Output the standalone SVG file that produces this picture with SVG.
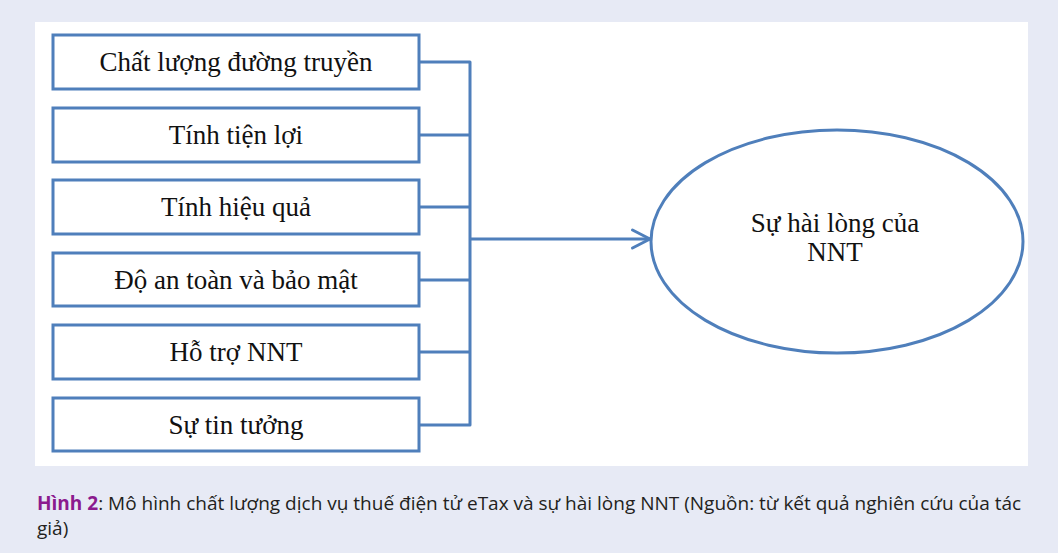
<svg xmlns="http://www.w3.org/2000/svg" width="1058" height="553" viewBox="0 0 1058 553">
  <style>
    .box { fill: #ffffff; stroke: #4f7fbb; stroke-width: 3; }
    .lbl { font-family: "Liberation Serif", "Times New Roman", serif; font-size: 27px; fill: #111111; text-anchor: middle; }
    .conn { fill: none; stroke: #4f7fbb; stroke-width: 3; stroke-linejoin: round; }
    .cap { font-family: "Open Sans", "Noto Sans", sans-serif; font-size: 19px; fill: #231f20; }
    .capb { font-weight: bold; fill: #8b1a8e; }
  </style>
  <defs>
    <marker id="arrow" markerWidth="12" markerHeight="14" refX="10.5" refY="7" orient="auto" markerUnits="userSpaceOnUse" viewBox="0 0 12 14" overflow="visible">
      <path d="M-7,-2 L10.5,7 L-7,16" fill="none" stroke="#4f7fbb" stroke-width="3" stroke-linecap="round" stroke-linejoin="round"/>
    </marker>
  </defs>
  <rect x="0" y="0" width="1058" height="553" fill="#e7eaf5"/>
  <rect x="35" y="22" width="993" height="444" fill="#ffffff"/>

  <g id="connectors">
    <path class="conn" d="M419,62 H470 V425 H419"/>
    <path class="conn" d="M419,135 H470"/>
    <path class="conn" d="M419,207 H470"/>
    <path class="conn" d="M419,280 H470"/>
    <path class="conn" d="M419,352 H470"/>
    <path class="conn" d="M470,239 H650" marker-end="url(#arrow)"/>
  </g>

  <g id="n1"><rect class="box" x="53" y="35" width="366" height="54"/><text class="lbl" x="236" y="71">Chất lượng đường truyền</text></g>
  <g id="n2"><rect class="box" x="53" y="108" width="366" height="54"/><text class="lbl" x="236" y="144">Tính tiện lợi</text></g>
  <g id="n3"><rect class="box" x="53" y="180" width="366" height="54"/><text class="lbl" x="236" y="216">Tính hiệu quả</text></g>
  <g id="n4"><rect class="box" x="53" y="253" width="366" height="53"/><text class="lbl" x="236" y="288.5">Độ an toàn và bảo mật</text></g>
  <g id="n5"><rect class="box" x="53" y="325" width="366" height="54"/><text class="lbl" x="236" y="361">Hỗ trợ NNT</text></g>
  <g id="n6"><rect class="box" x="53" y="398" width="366" height="53"/><text class="lbl" x="236" y="433.5">Sự tin tưởng</text></g>

  <g id="n7">
    <ellipse cx="837" cy="241.5" rx="186" ry="111.5" fill="#ffffff" stroke="#4f7fbb" stroke-width="3"/>
    <text class="lbl" x="835" y="232">Sự hài lòng của</text>
    <text class="lbl" x="835" y="261">NNT</text>
  </g>

  <g id="caption">
    <text class="cap" x="37" y="510"><tspan class="capb">Hình 2</tspan>: Mô hình chất lượng dịch vụ thuế điện tử eTax và sự hài lòng NNT (Nguồn: từ kết quả nghiên cứu của tác</text>
    <text class="cap" x="37" y="535">giả)</text>
  </g>
</svg>
